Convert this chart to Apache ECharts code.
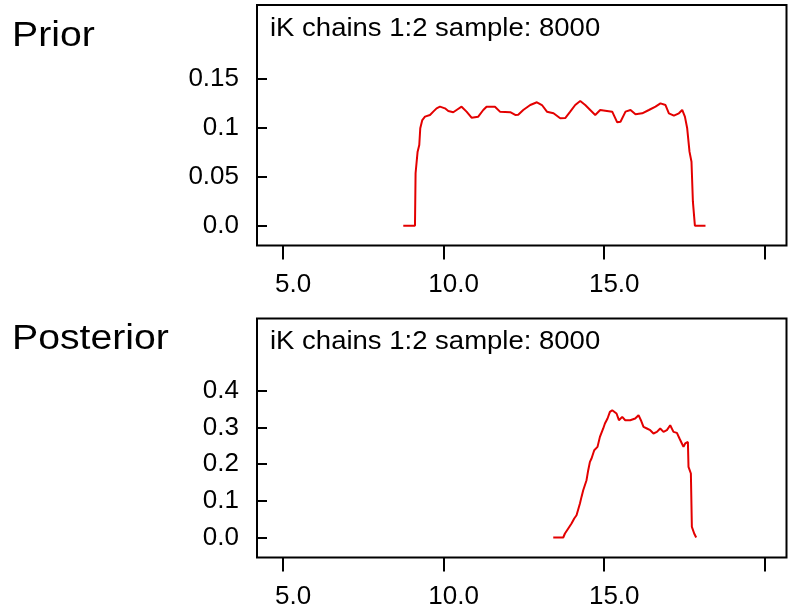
<!DOCTYPE html>
<html>
<head>
<meta charset="utf-8">
<script src="https://cdn.jsdelivr.net/npm/echarts@6/dist/echarts.min.js"></script>
<style>
  html, body { margin: 0; padding: 0; background: #fff; }
  #chart { width: 788px; height: 613px; }
</style>
</head>
<body>
<div id="chart"></div>
<script>
// Prior density of iK (chains 1:2, 8000 samples)
const priorX = [8.744, 9.108, 9.127, 9.19, 9.242, 9.273, 9.336, 9.42, 9.575, 9.678, 9.781, 9.886,
  10.042, 10.145, 10.30, 10.403, 10.559, 10.714, 10.87, 11.078, 11.234, 11.337, 11.598, 11.754,
  12.074, 12.23, 12.323, 12.479, 12.697, 12.905, 13.061, 13.217, 13.422, 13.63, 13.786, 13.942,
  14.097, 14.253, 14.409, 14.564, 14.72, 14.875, 15.031, 15.249, 15.405, 15.507, 15.663, 15.819,
  15.974, 16.183, 16.391, 16.597, 16.752, 16.908, 17.013, 17.169, 17.325, 17.428, 17.512, 17.583,
  17.655, 17.717, 17.761, 17.823, 18.153];
const priorY = [0, 0, 0.0536, 0.0757, 0.0825, 0.0996, 0.108, 0.1115, 0.1132, 0.1166, 0.120, 0.1217,
  0.120, 0.1173, 0.116, 0.1183, 0.1217, 0.1166, 0.1104, 0.1115, 0.1183, 0.1217, 0.1217, 0.1166,
  0.116, 0.1132, 0.1135, 0.1183, 0.1234, 0.1262, 0.1234, 0.1166, 0.1149, 0.1098, 0.110, 0.1166,
  0.1234, 0.1275, 0.1234, 0.1183, 0.1132, 0.1183, 0.1176, 0.1166, 0.1057, 0.1063, 0.1166, 0.1183,
  0.1139, 0.1149, 0.1183, 0.1217, 0.1251, 0.1234, 0.1149, 0.1125, 0.1149, 0.1183, 0.1115, 0.0996,
  0.0757, 0.0654, 0.0245, 0, 0];

// Posterior density of iK
const postX = [13.413, 13.724, 13.777, 13.88, 13.982, 14.066, 14.138, 14.244, 14.293, 14.346, 14.449,
  14.502, 14.555, 14.605, 14.689, 14.791, 14.866, 14.969, 15.022, 15.103, 15.177, 15.249, 15.383,
  15.458, 15.56, 15.654, 15.809, 15.965, 16.068, 16.142, 16.223, 16.329, 16.432, 16.534, 16.64,
  16.743, 16.846, 16.951, 17.054, 17.157, 17.263, 17.344, 17.418, 17.468, 17.521, 17.605, 17.624,
  17.698, 17.729, 17.801, 17.863];
const postY = [0, 0, 0.0109, 0.0246, 0.0382, 0.0518, 0.0608, 0.0928, 0.1108, 0.129, 0.1563,
  0.1836, 0.2063, 0.2156, 0.2382, 0.2472, 0.2745, 0.2974, 0.311, 0.3247, 0.3427, 0.3473, 0.3383,
  0.32, 0.329, 0.32, 0.32, 0.3247, 0.3337, 0.32, 0.3018, 0.2974, 0.2928, 0.2838, 0.2881,
  0.2974, 0.2881, 0.2928, 0.3064, 0.2881, 0.2854, 0.2701, 0.2565, 0.2472, 0.2565, 0.2608, 0.1926,
  0.1746, 0.0289, 0.0109, 0];

// Axis ticks and their labels
const xTicks = [5, 10, 15, 20];
const xTickLabels = ['5.0', '10.0', '15.0', ''];
const priorYTicks = [0, 0.05, 0.1, 0.15];
const priorYLabels = ['0.0', '0.05', '0.1', '0.15'];
const postYTicks = [0, 0.1, 0.2, 0.3, 0.4];
const postYLabels = ['0.0', '0.1', '0.2', '0.3', '0.4'];

const panelTitle = 'iK chains 1:2 sample: 8000';
const FONT = '"Liberation Sans", Arial, sans-serif';
const INK = '#000';

function zip(xs, ys) { return xs.map((x, i) => [x, ys[i]]); }
function labelFor(ticks, labels) {
  return v => {
    let best = 0;
    ticks.forEach((t, i) => { if (Math.abs(t - v) < Math.abs(ticks[best] - v)) best = i; });
    return labels[best];
  };
}

function xAxisFor(gridIndex) {
  return {
    type: 'value', gridIndex, min: 4.19, max: 20.675,
    axisLine: { show: false, onZero: false },
    splitLine: { show: false },
    axisTick: { show: true, customValues: xTicks, inside: false, length: 14,
      lineStyle: { color: INK, width: 2 } },
    axisLabel: { customValues: xTicks.slice(0, 3), formatter: labelFor(xTicks, xTickLabels),
      color: INK, fontSize: 26, fontFamily: FONT, margin: 26, padding: [0, 0, 0, 20] }
  };
}
function yAxisFor(gridIndex, min, max, ticks, labels) {
  return {
    type: 'value', gridIndex, min, max,
    axisLine: { show: false, onZero: false },
    splitLine: { show: false },
    axisTick: { show: true, customValues: ticks, inside: true, length: 10,
      lineStyle: { color: INK, width: 2 } },
    axisLabel: { customValues: ticks, formatter: labelFor(ticks, labels),
      color: INK, fontSize: 26, fontFamily: FONT, margin: 18, padding: [11, 0, 0, 0] }
  };
}

const chart = echarts.init(document.getElementById('chart'), null, { renderer: 'canvas' });
chart.setOption({
  backgroundColor: '#fff',
  animation: false,
  grid: [
    { left: 257, top: 5, right: 1.5, height: 240.5, show: true, borderColor: INK, borderWidth: 2,
      backgroundColor: 'transparent', outerBoundsMode: 'none' },
    { left: 257, top: 318.5, right: 1.5, height: 239, show: true, borderColor: INK, borderWidth: 2,
      backgroundColor: 'transparent', outerBoundsMode: 'none' }
  ],
  xAxis: [xAxisFor(0), xAxisFor(1)],
  yAxis: [
    yAxisFor(0, -0.0203, 0.2257, priorYTicks, priorYLabels),
    yAxisFor(1, -0.0546, 0.5975, postYTicks, postYLabels)
  ],
  series: [
    { type: 'line', xAxisIndex: 0, yAxisIndex: 0, data: zip(priorX, priorY), showSymbol: false,
      lineStyle: { color: '#e30000', width: 2 } },
    { type: 'line', xAxisIndex: 1, yAxisIndex: 1, data: zip(postX, postY), showSymbol: false,
      lineStyle: { color: '#e30000', width: 2 } }
  ],
  graphic: [
    { type: 'text', x: 12, y: 36, scaleX: 1.12,
      style: { text: 'Prior', font: '35px ' + FONT, fill: INK, align: 'left', verticalAlign: 'middle' } },
    { type: 'text', x: 12, y: 339.5, scaleX: 1.12,
      style: { text: 'Posterior', font: '35px ' + FONT, fill: INK, align: 'left', verticalAlign: 'middle' } },
    { type: 'text', x: 270, y: 29.5, scaleX: 1.1,
      style: { text: panelTitle, font: '25px ' + FONT, fill: INK, align: 'left', verticalAlign: 'middle' } },
    { type: 'text', x: 270, y: 342, scaleX: 1.1,
      style: { text: panelTitle, font: '25px ' + FONT, fill: INK, align: 'left', verticalAlign: 'middle' } }
  ]
});
</script>
</body>
</html>
